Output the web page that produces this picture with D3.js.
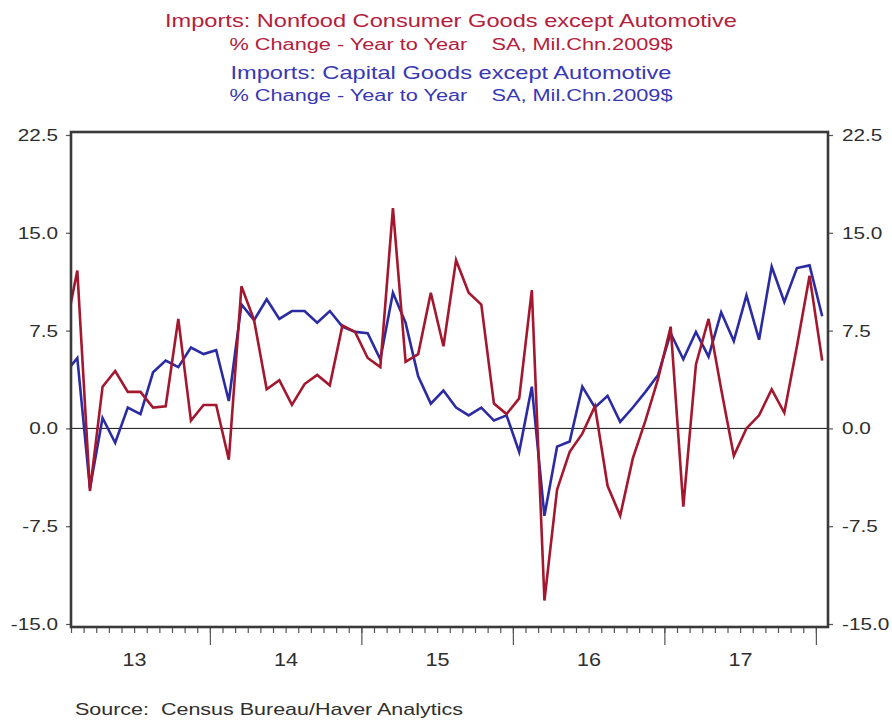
<!DOCTYPE html>
<html>
<head>
<meta charset="utf-8">
<script src="https://cdn.jsdelivr.net/npm/d3@7"></script>
<style>
  html, body { margin: 0; padding: 0; background: #ffffff; }
  svg { display: block; font-family: "Liberation Sans", Arial, sans-serif; }
</style>
</head>
<body>
<svg id="chart" width="892" height="722"></svg>
<script>
// Monthly year-over-year % change, Jan 2013 .. Jan 2018
const firstMonth = "2013-01";
const consumerGoods = [
  7.2, 12.1, -4.8, 3.2, 4.4, 2.8, 2.8, 1.6, 1.7, 8.4, 0.6, 1.8, 1.8,
  -2.4, 10.9, 8.3, 3.0, 3.7, 1.8, 3.4, 4.1, 3.3, 7.9, 7.4, 5.4,
  4.7, 16.9, 5.1, 5.7, 10.4, 6.3, 12.9, 10.4, 9.5, 1.9, 1.1, 2.3,
  10.6, -13.2, -4.7, -1.8, -0.4, 1.7, -4.4, -6.7, -2.3, 0.6, 3.8,
  7.8, -6.0, 4.9, 8.4, 3.0, -2.1, 0.0, 1.0, 3.0, 1.2, 6.3, 11.7, 5.2
];
const capitalGoods = [
  4.2, 5.4, -4.6, 0.8, -1.1, 1.6, 1.1, 4.3, 5.2, 4.7, 6.2, 5.7, 6.0,
  2.1, 9.5, 8.3, 9.9, 8.4, 9.0, 9.0, 8.1, 9.0, 7.8, 7.4, 7.3,
  5.3, 10.4, 8.1, 4.0, 1.9, 2.9, 1.6, 1.0, 1.6, 0.6, 1.0, -1.8,
  3.2, -6.7, -1.4, -1.0, 3.2, 1.6, 2.5, 0.5, 1.6, 2.8, 4.1,
  7.3, 5.3, 7.4, 5.5, 8.9, 6.7, 10.2, 6.8, 12.4, 9.7, 12.3, 12.5, 8.6
];
const yearLabels = ["13", "14", "15", "16", "17"];
const yTicks = [22.5, 15.0, 7.5, 0.0, -7.5, -15.0];
const titleLines = [
  "Imports: Nonfood Consumer Goods except Automotive",
  "% Change - Year to Year    SA, Mil.Chn.2009$",
  "Imports: Capital Goods except Automotive",
  "% Change - Year to Year    SA, Mil.Chn.2009$"
];
const sourceNote = "Source:  Census Bureau/Haver Analytics";

const svg = d3.select("#chart");
const frame = { left: 71, right: 828, top: 132, bottom: 627 };

// months counted from the start of firstMonth; Feb 2013 .. Feb 2018 spans the frame
const x = d3.scaleLinear().domain([1, 61]).range([71, 828.5]);
const y = d3.scaleLinear().domain([-15, 22.5]).range([624, 135]);

const red = "#a3172f", blue = "#2b2ba3";
const titleRed = "#b3203c", titleBlue = "#3838b4";
const inkGray = "#2e2e2e";

// stretch text horizontally by a factor, keeping its anchor
function stretch(sel, k) {
  sel.each(function () {
    const w = this.getComputedTextLength();
    d3.select(this).attr("textLength", w * k).attr("lengthAdjust", "spacingAndGlyphs");
  });
}

// titles
const titleSpec = [
  { y: 26.5, size: 18.5, fill: titleRed, width: 572 },
  { y: 50, size: 16, fill: titleRed, width: 443 },
  { y: 78.5, size: 18.5, fill: titleBlue, width: 441 },
  { y: 100.5, size: 16, fill: titleBlue, width: 443 }
];
titleLines.forEach((t, i) => {
  const s = titleSpec[i];
  svg.append("text")
    .attr("x", 451).attr("y", s.y)
    .attr("text-anchor", "middle")
    .style("white-space", "pre")
    .attr("font-size", s.size)
    .attr("fill", s.fill)
    .attr("textLength", s.width)
    .attr("lengthAdjust", "spacingAndGlyphs")
    .text(t);
});

// clip for series
svg.append("clipPath").attr("id", "plotClip")
  .append("rect").attr("x", frame.left).attr("y", frame.top)
  .attr("width", frame.right - frame.left).attr("height", frame.bottom - frame.top);

// zero line
svg.append("line")
  .attr("x1", frame.left).attr("x2", frame.right)
  .attr("y1", y(0)).attr("y2", y(0))
  .attr("stroke", "#111").attr("stroke-width", 1);

// series
const line = d3.line().x((d, i) => x(i + 0.5)).y(d => y(d));
const series = svg.append("g").attr("clip-path", "url(#plotClip)");
series.append("path").datum(capitalGoods)
  .attr("d", line).attr("fill", "none")
  .attr("stroke", blue).attr("stroke-width", 2.6).attr("stroke-linejoin", "miter");
series.append("path").datum(consumerGoods)
  .attr("d", line).attr("fill", "none")
  .attr("stroke", red).attr("stroke-width", 2.6).attr("stroke-linejoin", "miter");

// y axes
const fmt = d => d.toFixed(1);
const yLeft = svg.append("g").attr("transform", `translate(${frame.left},0)`)
  .call(d3.axisLeft(y).tickValues(yTicks).tickSize(5).tickPadding(8).tickFormat(fmt));
const yRight = svg.append("g").attr("transform", `translate(${frame.right},0)`)
  .call(d3.axisRight(y).tickValues(yTicks).tickSize(5).tickPadding(9).tickFormat(fmt));
[yLeft, yRight].forEach(g => {
  g.select(".domain").remove();
  g.selectAll("line").attr("stroke", "#555").attr("stroke-width", 1.2);
  g.selectAll("text").attr("font-size", 17).attr("fill", inkGray)
    .attr("font-family", "Liberation Sans, Arial, sans-serif");
  stretch(g.selectAll("text"), 1.22);
});

// x axis: monthly ticks, year boundary ticks, year labels
const months = d3.range(1, 61);
const xMinor = svg.append("g").attr("transform", `translate(0,${frame.bottom})`)
  .call(d3.axisBottom(x).tickValues(months).tickSize(6).tickFormat(""));
const xMajor = svg.append("g").attr("transform", `translate(0,${frame.bottom})`)
  .call(d3.axisBottom(x).tickValues([12, 24, 36, 48, 60]).tickSize(18).tickFormat(""));
const xLabels = svg.append("g").attr("transform", `translate(0,${frame.bottom})`)
  .call(d3.axisBottom(x).tickValues(yearLabels.map((d, i) => 6 + 12 * i)).tickSize(0).tickPadding(26)
    .tickFormat((d, i) => yearLabels[i]));
[xMinor, xMajor, xLabels].forEach(g => {
  g.select(".domain").remove();
  g.selectAll("line").attr("stroke", "#555").attr("stroke-width", 1.2);
});
xLabels.selectAll("text").attr("font-size", 18).attr("fill", inkGray)
  .attr("font-family", "Liberation Sans, Arial, sans-serif");
stretch(xLabels.selectAll("text"), 1.2);

// frame
svg.append("rect")
  .attr("x", frame.left).attr("y", frame.top)
  .attr("width", frame.right - frame.left).attr("height", frame.bottom - frame.top)
  .attr("fill", "none").attr("stroke", "#3a3a3a").attr("stroke-width", 2.6);

// source note
svg.append("text")
  .attr("x", 75).attr("y", 715)
  .style("white-space", "pre")
  .attr("font-size", 17).attr("fill", inkGray)
  .attr("textLength", 388).attr("lengthAdjust", "spacingAndGlyphs")
  .text(sourceNote);
</script>
</body>
</html>
